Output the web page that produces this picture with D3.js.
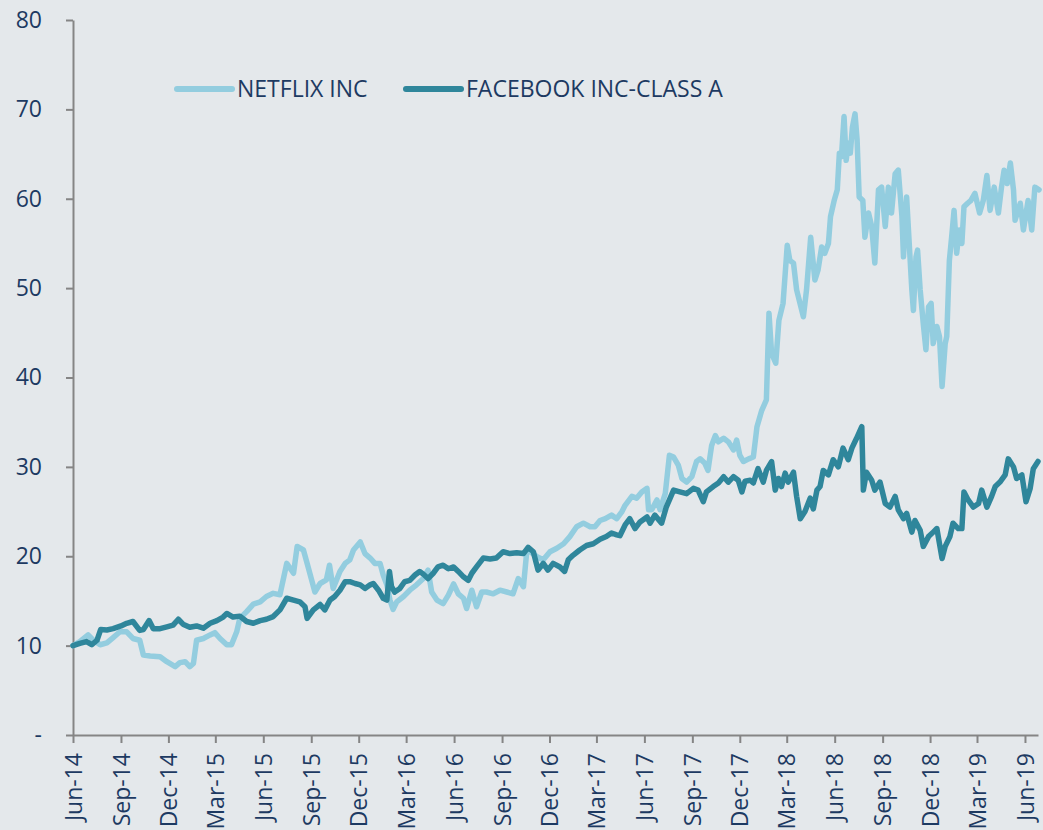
<!DOCTYPE html>
<html>
<head>
<meta charset="utf-8">
<script src="https://cdn.jsdelivr.net/npm/d3@7"></script>
<style>
  html, body { margin: 0; padding: 0; background: #e4e8eb; }
  svg { display: block; }
  text { font-family: 'Open Sans', sans-serif; fill: #1d3a62; }
</style>
</head>
<body>
<svg id="chart" width="1043" height="830"></svg>
<script>
// ---------------- data ----------------
const seriesNames = ["NETFLIX INC", "FACEBOOK INC-CLASS A"];
const seriesColors = ["#93cddf", "#2f869b"];

const netflix = [
["2014-06-01",10.0],["2014-06-14",10.45],["2014-06-30",11.2],["2014-07-10",10.6],["2014-07-23",10.1],["2014-08-05",10.3],["2014-08-17",10.9],["2014-08-30",11.55],["2014-09-12",11.55],["2014-09-24",10.8],["2014-10-07",10.6],["2014-10-14",8.95],["2014-10-27",8.85],["2014-11-15",8.75],["2014-11-28",8.2],["2014-12-14",7.65],["2014-12-23",8.1],["2015-01-02",8.2],["2015-01-11",7.65],["2015-01-18",8.0],["2015-01-24",10.6],["2015-02-06",10.8],["2015-02-19",11.2],["2015-02-28",11.45],["2015-03-10",10.8],["2015-03-23",10.1],["2015-04-01",10.1],["2015-04-11",11.55],["2015-04-17",13.05],["2015-04-30",13.8],["2015-05-13",14.65],["2015-05-26",14.9],["2015-06-07",15.5],["2015-06-20",15.85],["2015-07-03",15.7],["2015-07-16",19.2],["2015-07-29",18.1],["2015-08-05",21.1],["2015-08-17",20.7],["2015-08-26",18.8],["2015-09-08",16.0],["2015-09-18",16.95],["2015-09-30",17.35],["2015-10-06",19.0],["2015-10-13",16.4],["2015-10-26",18.3],["2015-11-05",19.2],["2015-11-14",19.6],["2015-11-21",20.7],["2015-12-04",21.6],["2015-12-13",20.3],["2015-12-23",19.8],["2016-01-01",19.2],["2016-01-11",19.2],["2016-01-17",17.9],["2016-01-24",16.8],["2016-01-30",15.1],["2016-02-05",14.05],["2016-02-12",14.9],["2016-02-25",15.5],["2016-03-08",16.2],["2016-03-21",16.8],["2016-04-03",17.5],["2016-04-12",18.45],["2016-04-19",16.0],["2016-04-29",15.1],["2016-05-11",14.7],["2016-05-21",15.65],["2016-05-31",16.9],["2016-06-09",15.8],["2016-06-19",15.3],["2016-06-25",14.15],["2016-07-05",16.2],["2016-07-14",14.35],["2016-07-24",16.0],["2016-08-02",16.0],["2016-08-15",15.8],["2016-08-28",16.2],["2016-09-10",16.0],["2016-09-22",15.8],["2016-10-02",17.5],["2016-10-12",16.6],["2016-10-18",20.3],["2016-10-21",20.7],["2016-11-07",19.95],["2016-11-19",19.6],["2016-12-02",20.5],["2016-12-15",20.9],["2016-12-28",21.4],["2017-01-09",22.2],["2017-01-22",23.3],["2017-02-04",23.7],["2017-02-17",23.3],["2017-02-26",23.3],["2017-03-08",24.0],["2017-03-18",24.2],["2017-03-30",24.6],["2017-04-09",24.2],["2017-04-19",25.0],["2017-04-25",25.7],["2017-05-08",26.7],["2017-05-17",26.5],["2017-05-27",27.2],["2017-06-06",27.6],["2017-06-09",25.2],["2017-06-15",25.2],["2017-06-25",26.3],["2017-07-01",25.2],["2017-07-11",27.0],["2017-07-19",31.3],["2017-07-27",31.1],["2017-08-05",30.2],["2017-08-12",28.7],["2017-08-21",28.3],["2017-08-31",28.9],["2017-09-09",30.6],["2017-09-16",30.9],["2017-09-25",30.4],["2017-10-01",29.6],["2017-10-08",32.4],["2017-10-15",33.5],["2017-10-21",32.8],["2017-10-31",33.2],["2017-11-09",32.8],["2017-11-19",31.9],["2017-11-25",33.0],["2017-12-01",31.3],["2017-12-08",30.6],["2017-12-18",30.9],["2017-12-27",31.1],["2018-01-03",34.5],["2018-01-12",36.3],["2018-01-21",37.5],["2018-01-26",47.2],["2018-01-31",42.7],["2018-02-08",41.6],["2018-02-14",46.4],["2018-02-22",48.3],["2018-03-02",54.8],["2018-03-07",53.1],["2018-03-14",52.8],["2018-03-20",49.8],["2018-04-02",46.8],["2018-04-08",49.8],["2018-04-16",55.7],["2018-04-24",50.9],["2018-04-30",52.0],["2018-05-07",54.6],["2018-05-13",53.9],["2018-05-20",55.0],["2018-05-24",58.0],["2018-05-31",59.8],["2018-06-06",61.0],["2018-06-10",65.1],["2018-06-14",64.7],["2018-06-19",69.2],["2018-06-23",64.3],["2018-06-27",66.2],["2018-07-01",65.1],["2018-07-05",68.0],["2018-07-10",69.5],["2018-07-14",66.6],["2018-07-18",60.2],["2018-07-25",59.8],["2018-07-29",55.7],["2018-08-05",58.4],["2018-08-11",56.9],["2018-08-17",52.8],["2018-08-24",61.0],["2018-08-30",61.3],["2018-09-06",56.9],["2018-09-12",61.3],["2018-09-18",58.4],["2018-09-25",62.8],["2018-10-01",63.2],["2018-10-08",58.0],["2018-10-11",53.5],["2018-10-17",60.2],["2018-10-22",55.0],["2018-10-27",49.8],["2018-10-30",47.5],["2018-11-04",53.5],["2018-11-07",54.25],["2018-11-12",49.8],["2018-11-18",46.0],["2018-11-23",43.1],["2018-11-28",47.9],["2018-12-03",48.3],["2018-12-07",43.8],["2018-12-14",45.7],["2018-12-19",44.6],["2018-12-24",39.0],["2018-12-30",43.8],["2019-01-02",44.6],["2019-01-07",53.1],["2019-01-12",56.1],["2019-01-16",58.7],["2019-01-21",53.9],["2019-01-26",56.5],["2019-01-31",55.0],["2019-02-04",59.1],["2019-02-11",59.5],["2019-02-17",59.8],["2019-02-25",60.6],["2019-03-06",58.4],["2019-03-13",59.8],["2019-03-20",62.6],["2019-03-26",58.7],["2019-04-03",61.3],["2019-04-11",58.4],["2019-04-17",61.3],["2019-04-22",63.2],["2019-04-28",61.7],["2019-05-04",64.0],["2019-05-10",61.0],["2019-05-13",57.6],["2019-05-23",59.5],["2019-05-29",56.5],["2019-06-07",59.8],["2019-06-14",56.5],["2019-06-20",61.3],["2019-06-28",61.0]
];

const facebook = [
["2014-06-01",10.0],["2014-06-14",10.25],["2014-06-27",10.45],["2014-07-07",10.1],["2014-07-17",10.6],["2014-07-24",11.8],["2014-08-05",11.75],["2014-08-17",11.9],["2014-09-01",12.2],["2014-09-12",12.5],["2014-09-24",12.7],["2014-10-07",11.7],["2014-10-14",11.8],["2014-10-25",12.8],["2014-11-02",11.9],["2014-11-15",11.9],["2014-11-28",12.1],["2014-12-10",12.3],["2014-12-20",12.95],["2014-12-29",12.4],["2015-01-11",12.05],["2015-01-24",12.2],["2015-02-06",11.95],["2015-02-19",12.5],["2015-03-04",12.8],["2015-03-16",13.2],["2015-03-23",13.6],["2015-04-04",13.2],["2015-04-17",13.3],["2015-04-30",12.7],["2015-05-13",12.5],["2015-05-26",12.8],["2015-06-07",12.95],["2015-06-20",13.25],["2015-07-03",14.0],["2015-07-16",15.3],["2015-07-29",15.1],["2015-08-10",14.9],["2015-08-20",14.35],["2015-08-24",13.05],["2015-09-05",14.0],["2015-09-18",14.6],["2015-09-27",14.0],["2015-10-07",15.1],["2015-10-16",15.5],["2015-10-26",16.2],["2015-11-05",17.15],["2015-11-14",17.15],["2015-11-24",16.95],["2015-12-04",16.8],["2015-12-13",16.4],["2015-12-23",16.8],["2015-12-29",16.95],["2016-01-08",16.2],["2016-01-17",15.3],["2016-01-24",15.1],["2016-01-29",18.3],["2016-02-02",16.6],["2016-02-08",16.0],["2016-02-18",16.4],["2016-02-27",17.15],["2016-03-08",17.3],["2016-03-18",17.9],["2016-03-27",18.3],["2016-04-03",18.0],["2016-04-12",17.5],["2016-04-22",18.1],["2016-05-01",18.8],["2016-05-11",19.0],["2016-05-21",18.6],["2016-05-31",18.8],["2016-06-09",18.3],["2016-06-19",17.7],["2016-06-28",17.3],["2016-07-05",18.1],["2016-07-14",18.8],["2016-07-27",19.8],["2016-08-09",19.7],["2016-08-21",19.8],["2016-09-03",20.5],["2016-09-16",20.3],["2016-09-29",20.4],["2016-10-12",20.3],["2016-10-21",21.0],["2016-10-31",20.5],["2016-11-09",18.45],["2016-11-19",19.2],["2016-11-28",18.45],["2016-12-08",19.2],["2016-12-21",18.8],["2016-12-30",18.3],["2017-01-06",19.6],["2017-01-15",20.1],["2017-01-28",20.7],["2017-02-10",21.2],["2017-02-23",21.4],["2017-03-08",21.9],["2017-03-20",22.2],["2017-03-30",22.6],["2017-04-09",22.4],["2017-04-15",22.3],["2017-04-25",23.5],["2017-05-04",24.2],["2017-05-14",23.1],["2017-05-23",23.8],["2017-06-06",24.4],["2017-06-12",23.7],["2017-06-21",24.6],["2017-07-04",23.7],["2017-07-13",25.5],["2017-07-27",27.4],["2017-08-08",27.2],["2017-08-21",27.0],["2017-09-03",27.6],["2017-09-12",27.4],["2017-09-22",26.1],["2017-09-28",27.2],["2017-10-11",27.8],["2017-10-21",28.2],["2017-10-31",28.9],["2017-11-09",28.3],["2017-11-19",28.9],["2017-11-28",28.5],["2017-12-05",27.2],["2017-12-11",28.4],["2017-12-21",28.5],["2017-12-27",28.2],["2018-01-05",29.8],["2018-01-15",28.3],["2018-01-21",29.6],["2018-01-31",30.6],["2018-02-07",27.4],["2018-02-13",28.7],["2018-02-19",27.8],["2018-02-26",29.3],["2018-03-04",28.3],["2018-03-14",29.4],["2018-03-20",26.7],["2018-03-27",24.2],["2018-04-05",25.0],["2018-04-15",26.5],["2018-04-21",25.3],["2018-04-28",27.4],["2018-05-04",27.8],["2018-05-10",29.6],["2018-05-20",29.1],["2018-05-29",30.8],["2018-06-08",30.0],["2018-06-17",32.1],["2018-06-27",30.8],["2018-07-04",32.1],["2018-07-13",33.2],["2018-07-23",34.5],["2018-07-26",27.4],["2018-08-01",29.4],["2018-08-11",28.5],["2018-08-17",27.4],["2018-08-27",28.3],["2018-09-06",25.9],["2018-09-15",25.5],["2018-09-25",26.7],["2018-10-01",25.2],["2018-10-11",24.2],["2018-10-17",24.8],["2018-10-27",22.7],["2018-11-02",24.0],["2018-11-12",22.9],["2018-11-18",21.1],["2018-11-28",22.2],["2018-12-07",22.7],["2018-12-14",23.1],["2018-12-24",19.75],["2018-12-30",21.1],["2019-01-08",22.2],["2019-01-14",23.7],["2019-01-24",23.1],["2019-01-31",23.1],["2019-02-04",27.2],["2019-02-12",26.3],["2019-02-22",25.5],["2019-03-04",25.9],["2019-03-10",27.4],["2019-03-20",25.5],["2019-03-29",26.7],["2019-04-05",27.8],["2019-04-14",28.3],["2019-04-24",29.1],["2019-04-30",30.9],["2019-05-10",30.0],["2019-05-16",28.7],["2019-05-26",29.1],["2019-06-03",26.1],["2019-06-11",27.6],["2019-06-17",29.8],["2019-06-26",30.6]
];

const yTicks = [0, 10, 20, 30, 40, 50, 60, 70, 80];
const yTickLabels = ["-", "10", "20", "30", "40", "50", "60", "70", "80"];
const xTickDates = ["2014-06-01","2014-09-01","2014-12-01","2015-03-01","2015-06-01","2015-09-01","2015-12-01","2016-03-01","2016-06-01","2016-09-01","2016-12-01","2017-03-01","2017-06-01","2017-09-01","2017-12-01","2018-03-01","2018-06-01","2018-09-01","2018-12-01","2019-03-01","2019-06-01"];
const xTickLabels = ["Jun-14","Sep-14","Dec-14","Mar-15","Jun-15","Sep-15","Dec-15","Mar-16","Jun-16","Sep-16","Dec-16","Mar-17","Jun-17","Sep-17","Dec-17","Mar-18","Jun-18","Sep-18","Dec-18","Mar-19","Jun-19"];
const xDomain = ["2014-06-01", "2019-06-26"];

// ---------------- chart ----------------
(function () {
const parse = d3.timeParse("%Y-%m-%d");
const svg = d3.select("#chart");
const mLeft = 73, mRight = 1038, mTop = 20, mBottom = 735;
const fontStack = "'Open Sans', sans-serif";
const textColor = "#1d3a62";

const x = d3.scaleTime().domain(xDomain.map(parse)).range([mLeft, mRight]);
const y = d3.scaleLinear().domain([0, 80]).range([mBottom, mTop]);

const axisColor = "#858585";

// Y axis
const yAxis = d3.axisLeft(y)
  .tickValues(yTicks)
  .tickFormat((d, i) => yTickLabels[i])
  .tickSize(7).tickSizeOuter(0).tickPadding(24);
const gy = svg.append("g").attr("transform", `translate(${mLeft},0)`).call(yAxis);
gy.select(".domain").attr("stroke", axisColor).attr("stroke-width", 2);
gy.selectAll(".tick line").attr("stroke", axisColor).attr("stroke-width", 2);
gy.selectAll(".tick text").attr("font-size", 23).attr("fill", textColor)
  .attr("font-family", fontStack);

// X axis
const xAxis = d3.axisBottom(x)
  .tickValues(xTickDates.map(parse))
  .tickFormat((d, i) => xTickLabels[i])
  .tickSize(8).tickSizeOuter(0);
const gx = svg.append("g").attr("transform", `translate(0,${mBottom})`).call(xAxis);
gx.select(".domain").attr("stroke", axisColor).attr("stroke-width", 2);
gx.selectAll(".tick line").attr("stroke", axisColor).attr("stroke-width", 2);
gx.selectAll(".tick text")
  .attr("font-size", 23).attr("fill", textColor)
  .attr("font-family", fontStack)
  .attr("text-anchor", "end")
  .attr("transform", "rotate(-90)")
  .attr("x", -18).attr("y", 0).attr("dy", "0.35em");

// Lines
const line = d3.line()
  .x(d => x(parse(d[0])))
  .y(d => y(d[1]));

[netflix, facebook].forEach((series, i) => {
  svg.append("path")
    .datum(series)
    .attr("fill", "none")
    .attr("stroke", seriesColors[i])
    .attr("stroke-width", 5.5)
    .attr("stroke-linejoin", "round")
    .attr("stroke-linecap", "round")
    .attr("d", line);
});

// Legend
const legendX = [177, 406];
seriesNames.forEach((name, i) => {
  const g = svg.append("g").attr("transform", `translate(${legendX[i]},89)`);
  g.append("line").attr("x1", 0).attr("x2", 55).attr("y1", 0).attr("y2", 0)
    .attr("stroke", seriesColors[i]).attr("stroke-width", 6).attr("stroke-linecap", "round");
  g.append("text").attr("x", 60).attr("y", 0).attr("dy", "0.35em")
    .attr("font-size", 23).attr("font-family", fontStack).attr("fill", textColor).text(name);
});
})();
</script>
</body>
</html>
